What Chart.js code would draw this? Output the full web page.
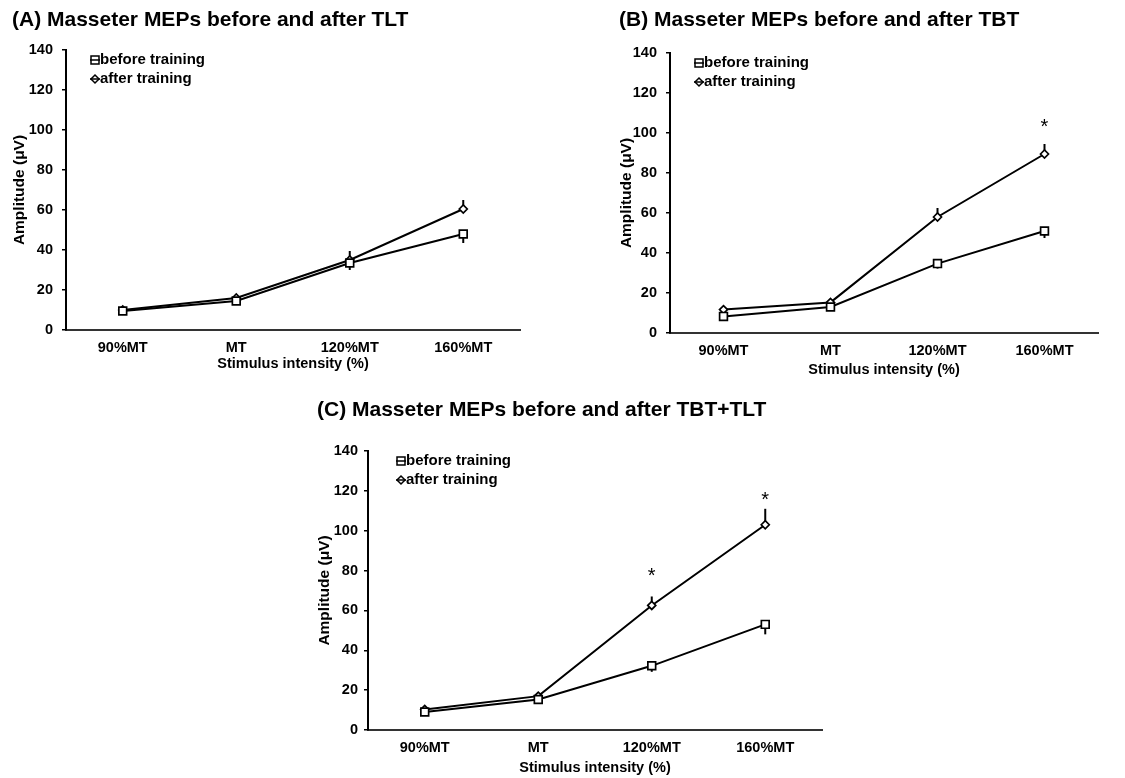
<!DOCTYPE html>
<html><head><meta charset="utf-8">
<script src="https://cdn.jsdelivr.net/npm/chart.js@4.4.1/dist/chart.umd.min.js"></script>
<style>
html,body{margin:0;padding:0;background:#fff;width:1125px;height:778px;overflow:hidden;position:relative;}
canvas{position:absolute;}
</style></head><body>
<canvas id="cA" width="560" height="385" style="left:0px;top:0px"></canvas>
<canvas id="cB" width="555" height="390" style="left:570px;top:0px"></canvas>
<canvas id="cC" width="555" height="388" style="left:290px;top:390px"></canvas>
<script>
// ---- data ----
const categories = ['90%MT', 'MT', '120%MT', '160%MT'];
const yTickValues = [0, 20, 40, 60, 80, 100, 120, 140];
const seriesNames = ['before training', 'after training'];
const xAxisTitle = 'Stimulus intensity (%)';
const yAxisTitle = 'Amplitude (μV)';

const titleA = '(A) Masseter MEPs before and after TLT';
const beforeA = [9.5, 14.5, 33.5, 48];
const afterA = [10, 16, 35, 60.5];
const beforeErrA = [1, 1, 3.5, 4.5];
const afterErrA = [1, 1, 4.5, 4.5];
const starsA = [null, null, null, null];

const titleB = '(B) Masseter MEPs before and after TBT';
const beforeB = [8.3, 13, 34.7, 51];
const afterB = [11.7, 15.3, 58, 89.5];
const beforeErrB = [1, 1, 2.5, 3.5];
const afterErrB = [1, 1, 4.5, 5];
const starsB = [null, null, null, 105];

const titleC = '(C) Masseter MEPs before and after TBT+TLT';
const beforeC = [9, 15.3, 32.2, 53];
const afterC = [10.3, 17, 62.5, 103];
const beforeErrC = [1, 1, 3, 5];
const afterErrC = [1, 1, 4.5, 8];
const starsC = [null, null, 79, 117];

// ---- rendering ----
const FONT = '"Liberation Sans", Arial, Helvetica, sans-serif';

const decor = {
  id: 'decor',
  beforeDatasetsDraw(chart, args, o) {
    const ctx = chart.ctx, ys = chart.scales.y;
    ctx.save();
    ctx.strokeStyle = '#000';
    ctx.lineWidth = 2;
    o.errors.forEach((errs, di) => {
      const meta = chart.getDatasetMeta(di);
      const vals = chart.data.datasets[di].data;
      const dir = di === 0 ? -1 : 1;
      meta.data.forEach((pt, i) => {
        const end = ys.getPixelForValue(vals[i] + dir * errs[i]);
        ctx.beginPath();
        ctx.moveTo(pt.x, pt.y);
        ctx.lineTo(pt.x, end);
        ctx.stroke();
      });
    });
    ctx.restore();
  },
  afterDraw(chart, args, o) {
    const ctx = chart.ctx, ys = chart.scales.y, xs = chart.scales.x;
    ctx.save();
    // title
    ctx.fillStyle = '#000';
    ctx.font = 'bold 21px ' + FONT;
    ctx.textAlign = 'left';
    ctx.textBaseline = 'middle';
    ctx.fillText(o.title, o.titleX, o.titleY);
    // legend
    ctx.font = 'bold 15px ' + FONT;
    seriesNames.forEach((name, i) => {
      const y = o.legY + i * o.legGap;
      const x = o.legX;
      ctx.strokeStyle = '#000';
      ctx.lineWidth = 1.5;
      ctx.fillStyle = '#fff';
      ctx.beginPath();
      if (i === 0) {
        ctx.rect(x, y - 4, 8, 8);
      } else {
        ctx.moveTo(x + 4, y - 4); ctx.lineTo(x + 8, y); ctx.lineTo(x + 4, y + 4); ctx.lineTo(x, y); ctx.closePath();
      }
      ctx.fill(); ctx.stroke();
      ctx.beginPath(); ctx.moveTo(x - 1, y); ctx.lineTo(x + 9, y); ctx.stroke();
      ctx.fillStyle = '#000';
      ctx.fillText(name, x + 9, y);
    });
    // significance stars
    ctx.font = '20px ' + FONT;
    ctx.textAlign = 'center';
    o.stars.forEach((s, i) => {
      if (s === null) return;
      ctx.fillText('*', xs.getPixelForValue(i), ys.getPixelForValue(s) + 4);
    });
    ctx.restore();
  }
};

function makeChart(id, L, title, before, after, bErr, aErr, stars) {
  return new Chart(document.getElementById(id), {
    type: 'line',
    data: {
      labels: categories,
      datasets: [
        { label: seriesNames[0], data: before, borderColor: '#000', borderWidth: 2,
          pointStyle: 'rect', pointRadius: 5.5, pointBorderWidth: 1.7,
          pointBackgroundColor: '#fff', pointBorderColor: '#000', tension: 0 },
        { label: seriesNames[1], data: after, borderColor: '#000', borderWidth: 2,
          pointStyle: 'rectRot', pointRadius: 4, pointBorderWidth: 1.7,
          pointBackgroundColor: '#fff', pointBorderColor: '#000', tension: 0 }
      ]
    },
    options: {
      responsive: false,
      animation: false,
      events: [],
      layout: { padding: { left: 0, top: L.padT, right: L.padR, bottom: 0 } },
      plugins: {
        legend: { display: false },
        tooltip: { enabled: false },
        decor: { title: title, titleX: L.titleX, titleY: L.titleY,
                 legX: L.legX, legY: L.legY, legGap: 19,
                 errors: [bErr, aErr], stars: stars }
      },
      scales: {
        x: {
          type: 'category', offset: true,
          grid: { display: false, drawTicks: false, tickLength: 0 },
          border: { display: true, color: '#333', width: 2 },
          ticks: { color: '#000', font: { family: FONT, size: 14.5, weight: 'bold' }, padding: 9, maxRotation: 0 },
          title: { display: true, text: xAxisTitle, color: '#000',
                   font: { family: FONT, size: 14.5, weight: 'bold' }, padding: { top: 0, bottom: L.xTitlePad } },
          afterFit: (s) => { s.height = L.xH; }
        },
        y: {
          min: 0, max: 140,
          afterBuildTicks: (s) => { s.ticks = yTickValues.map(v => ({ value: v })); },
          grid: { display: true, drawOnChartArea: false, drawTicks: true, tickLength: 4, color: '#000', lineWidth: 1.5 },
          border: { display: true, color: '#000', width: 2 },
          ticks: { color: '#000', font: { family: FONT, size: 14.5, weight: 'bold' }, padding: L.yTickPad },
          title: { display: true, text: yAxisTitle, color: '#000',
                   font: { family: FONT, size: 15.5, weight: 'bold' }, padding: { top: L.yTitlePad, bottom: 0 } },
          afterFit: (s) => { s.width = L.yW; }
        }
      }
    },
    plugins: [decor]
  });
}

makeChart('cA', { padT: 50, padR: 40, yW: 66, xH: 55, xTitlePad: 12, yTitlePad: 10, yTickPad: 9,
                  titleX: 12, titleY: 20, legX: 91, legY: 60 },
          titleA, beforeA, afterA, beforeErrA, afterErrA, starsA);
makeChart('cB', { padT: 53, padR: 27, yW: 100, xH: 57, xTitlePad: 11, yTitlePad: 47, yTickPad: 9,
                  titleX: 49, titleY: 20, legX: 125, legY: 63 },
          titleB, beforeB, afterB, beforeErrB, afterErrB, starsB);
makeChart('cC', { padT: 61, padR: 23, yW: 78, xH: 48, xTitlePad: 1, yTitlePad: 25, yTickPad: 6,
                  titleX: 27, titleY: 20, legX: 107, legY: 71 },
          titleC, beforeC, afterC, beforeErrC, afterErrC, starsC);
</script>
</body></html>
